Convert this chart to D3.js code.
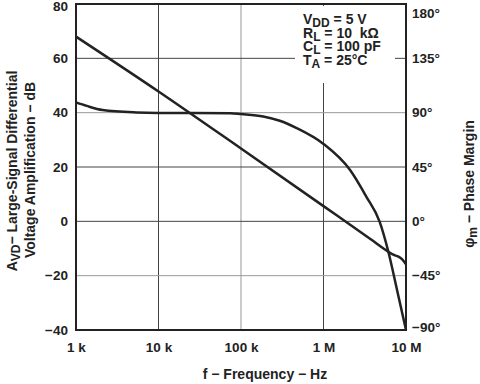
<!DOCTYPE html>
<html>
<head>
<meta charset="utf-8">
<script src="https://cdn.jsdelivr.net/npm/d3@7"></script>
<style>
  body { margin: 0; background: #fff; }
  svg { display: block; font-family: "Liberation Sans", Arial, Helvetica, sans-serif; }
  .tick text { font-size: 13.5px; font-weight: bold; fill: #222; }
  .ttl { font-size: 14px; fill: #222; }
</style>
</head>
<body>
<svg width="480" height="384"></svg>
<script>
// axis ticks
const freqTicks = [1e3, 1e4, 1e5, 1e6, 1e7]
const freqLabels = ["1 k", "10 k", "100 k", "1 M", "10 M"]
const gainTicks = [-40, -20, 0, 20, 40, 60, 80]
const phaseTicks = [-90, -45, 0, 45, 90, 135, 180]

// large-signal gain (dB)
const gainFreq = [1e3, 1e4, 1e5, 1e6, 3.7e6, 6.1e6, 7e6, 8.1e6, 9e6, 1e7]
const gainDb = [68, 47.8, 26.8, 5.6, -6.5, -11.2, -12.3, -13.0, -14.0, -15.8]

// phase margin (deg)
const phaseFreq = [1e3, 1.35e3, 2.1e3, 5.4e3, 1e4, 7.4e4, 1e5, 1.86e5, 2.95e5, 4.73e5, 1e6, 2.1e6, 3.3e6, 4.8e6, 6.1e6, 7.8e6, 1e7]
const phaseDeg = [98.5, 95.6, 92.2, 90.2, 89.8, 89.6, 88.9, 86.9, 83.3, 77.2, 64.1, 42.5, 20.5, -0.5, -25, -57, -90]

const m = { left: 76, right: 406, top: 4, bottom: 330 }

const svg = d3.select('svg')

const x = d3.scaleLog().domain([1e3, 1e7]).range([m.left, m.right])
const yG = d3.scaleLinear().domain([-40, 80]).range([m.bottom, m.top])
const yP = d3.scaleLinear().domain([-90, 180]).range([m.bottom, m.top])

// grid
const darkV = [1e4, 1e6], darkH = [60, 20, 0]
svg.append('g').selectAll('line')
    .data(freqTicks.slice(1, -1))
    .enter().append('line')
    .attr('x1', d => x(d)).attr('x2', d => x(d))
    .attr('y1', m.top).attr('y2', m.bottom)
    .attr('stroke', d => darkV.includes(d) ? '#444' : '#999')
    .attr('stroke-width', 1)
svg.append('g').selectAll('line')
    .data(gainTicks.slice(1, -1))
    .enter().append('line')
    .attr('x1', m.left).attr('x2', m.right)
    .attr('y1', d => yG(d)).attr('y2', d => yG(d))
    .attr('stroke', d => darkH.includes(d) ? '#444' : '#999')
    .attr('stroke-width', 1)

// conditions box
svg.append('rect')
    .attr('x', 295).attr('y', 6).attr('width', 100).attr('height', 77)
    .attr('fill', '#fff')

const cond = [["V", "DD", " = 5 V"], ["R", "L", " = 10  kΩ"], ["C", "L", " = 100 pF"], ["T", "A", " = 25°C"]]
cond.forEach((c, i) => {
    const t = svg.append('text')
        .attr('x', 303).attr('y', 24 + i * 13.5)
        .attr('font-size', 14).attr('font-weight', 'bold').attr('fill', '#222')
        .attr('xml:space', 'preserve')
    t.append('tspan').text(c[0])
    t.append('tspan').attr('dy', 3).attr('font-size', 12).text(c[1])
    t.append('tspan').attr('dy', -3).text(c[2])
})

// curves
const line = d3.line().curve(d3.curveMonotoneX)
svg.append('path')
    .attr('d', line(gainFreq.map((f, i) => [x(f), yG(gainDb[i])])))
    .attr('fill', 'none').attr('stroke', '#222').attr('stroke-width', 2.5)
svg.append('path')
    .attr('d', line(phaseFreq.map((f, i) => [x(f), yP(phaseDeg[i])])))
    .attr('fill', 'none').attr('stroke', '#222').attr('stroke-width', 2.5)

// frame
svg.append('rect')
    .attr('x', m.left).attr('y', m.top)
    .attr('width', m.right - m.left).attr('height', m.bottom - m.top)
    .attr('fill', 'none').attr('stroke', '#222').attr('stroke-width', 2)

// axes
svg.append('g')
    .attr('transform', `translate(0,${m.bottom})`)
    .call(d3.axisBottom(x).tickValues(freqTicks).tickFormat((d, i) => freqLabels[i]).tickSize(0).tickPadding(12))
const gl = svg.append('g')
    .attr('transform', `translate(${m.left},0)`)
    .call(d3.axisLeft(yG).tickValues(gainTicks).tickFormat(d => d < 0 ? '−' + (-d) : d).tickSize(0).tickPadding(8))
const gr = svg.append('g')
    .attr('transform', `translate(${m.right},0)`)
    .call(d3.axisRight(yP).tickValues(phaseTicks).tickFormat(d => (d < 0 ? '−' + (-d) : d) + '°').tickSize(0).tickPadding(6))
svg.selectAll('.domain').remove()
svg.selectAll('.tick text').attr('font-family', null).attr('font-size', null)
gl.selectAll('.tick text').filter(d => d === 80).attr('dy', '0.5em')
gr.selectAll('.tick text').filter(d => d === 180).attr('dy', '1em')
gr.selectAll('.tick text').filter(d => d === -90).attr('dy', '0.1em')

// titles
svg.append('text').attr('class', 'ttl')
    .attr('x', 265).attr('y', 379).attr('text-anchor', 'middle')
    .attr('font-weight', 'bold')
    .text('f − Frequency − Hz')

const yt = svg.append('text').attr('class', 'ttl')
    .attr('transform', 'translate(17,171) rotate(-90)')
    .attr('text-anchor', 'middle').attr('font-weight', 'bold')
yt.append('tspan').text('A')
yt.append('tspan').attr('dy', 3).attr('font-size', 12).text('VD')
yt.append('tspan').attr('dy', -3).text('− Large-Signal Differential')
svg.append('text').attr('class', 'ttl')
    .attr('transform', 'translate(35,170) rotate(-90)')
    .attr('text-anchor', 'middle').attr('font-weight', 'bold')
    .text('Voltage Amplification − dB')

const rt = svg.append('text').attr('class', 'ttl')
    .attr('transform', 'translate(474,184) rotate(-90)')
    .attr('text-anchor', 'middle').attr('font-weight', 'bold')
rt.append('tspan').text('φ')
rt.append('tspan').attr('dy', 3).attr('font-size', 12).text('m')
rt.append('tspan').attr('dy', -3).text(' − Phase Margin')
</script>
</body>
</html>
